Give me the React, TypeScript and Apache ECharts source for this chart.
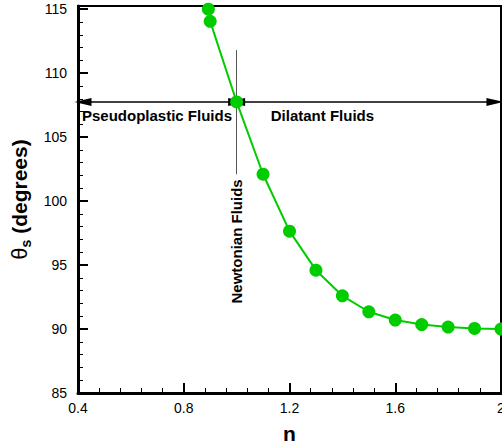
import React, { useEffect, useRef } from "react";
import * as echarts from "echarts";

const nValues = [0.893, 0.9, 1.0, 1.1, 1.2, 1.3, 1.4, 1.5, 1.6, 1.7, 1.8, 1.9, 2.0];
const thetaValues = [115.0, 114.05, 107.75, 102.1, 97.65, 94.6, 92.6, 91.35, 90.7, 90.35, 90.15, 90.05, 90.0];

const xTickLabels = ["0.4", "0.8", "1.2", "1.6", "2"];
const yRange = [85, 115.25];
const xRange = [0.4, 2.0];

const arrowY = 107.75;
const pseudoArrow = [0.419, 1.0];
const dilatantArrow = [1.0, 1.977];
const newtonianLine = [111.8, 102.1];
const annotations = [
  { name: "Pseudoplastic Fluids", n: 0.415, theta: 106.7, rotate: 0 },
  { name: "Dilatant Fluids", n: 1.129, theta: 106.7, rotate: 0 },
  { name: "Newtonian Fluids", n: 1.0, theta: 96.85, rotate: 90 },
];

const FONT = "'Liberation Sans', Arial, Helvetica, sans-serif";

export default function App() {
  const ref = useRef<HTMLDivElement>(null);
  useEffect(() => {
    if (!ref.current) return;
    const chart = echarts.init(ref.current, undefined, { renderer: "svg" });
    const greens = "#00CC00";
    const option: any = {
      animation: false,
      backgroundColor: "#fff",
      grid: {
        left: 78,
        right: 1,
        top: 6,
        bottom: 52,
        containLabel: false,
        outerBoundsMode: "none",
        show: true,
        borderColor: "#000",
        borderWidth: 2,
        backgroundColor: "transparent",
      },
      xAxis: {
        type: "value",
        min: xRange[0],
        max: xRange[1],
        interval: 0.4,
        name: "n",
        nameLocation: "middle",
        nameGap: 30,
        nameTextStyle: { fontFamily: FONT, fontSize: 21, fontWeight: "bold", color: "#000" },
        axisLine: { show: true, lineStyle: { color: "#000", width: 3 } },
        axisTick: { show: true, inside: true, length: 10, lineStyle: { color: "#000", width: 2 } },
        minorTick: { show: true, splitNumber: 5, length: 5, lineStyle: { color: "#000", width: 1 } },
        splitLine: { show: false },
        axisLabel: {
          fontFamily: FONT,
          fontSize: 14,
          color: "#000",
          margin: 8,
          formatter: (v: number) => {
            const i = Math.round((v - xRange[0]) / 0.4);
            return xTickLabels[i] ?? "";
          },
        },
      },
      yAxis: {
        type: "value",
        min: yRange[0],
        max: yRange[1],
        interval: 5,
        name: "{t|θ}{s|s}{d| (degrees)}",
        nameLocation: "middle",
        nameRotate: 90,
        nameGap: 42,
        nameTextStyle: {
          fontFamily: FONT,
          color: "#000",
          rich: {
            t: { fontFamily: FONT, fontSize: 22, color: "#000" },
            s: { fontFamily: FONT, fontSize: 14, fontWeight: "bold", color: "#000", padding: [12, 0, 0, 0] },
            d: { fontFamily: FONT, fontSize: 21, fontWeight: "bold", color: "#000" },
          },
        },
        axisLine: { show: true, lineStyle: { color: "#000", width: 3 } },
        axisTick: { show: true, inside: true, length: 10, lineStyle: { color: "#000", width: 2 } },
        minorTick: { show: true, splitNumber: 5, length: 5, lineStyle: { color: "#000", width: 1 } },
        splitLine: { show: false },
        axisLabel: { fontFamily: FONT, fontSize: 14, color: "#000", margin: 11 },
      },
      series: [
        {
          type: "line",
          data: nValues.map((n, i) => [n, thetaValues[i]]),
          clip: false,
          z: 5,
          symbol: "circle",
          symbolSize: 13,
          itemStyle: { color: greens },
          lineStyle: { color: greens, width: 2 },
          markLine: {
            silent: true,
            animation: false,
            label: { show: false },
            z: 4,
            data: [
              [
                { coord: [pseudoArrow[0], arrowY], symbol: "triangle", symbolSize: [8, 17] },
                { coord: [pseudoArrow[1], arrowY], symbol: "triangle", symbolSize: [8, 17] },
              ],
              [
                { coord: [dilatantArrow[0], arrowY], symbol: "triangle", symbolSize: [8, 17] },
                { coord: [dilatantArrow[1], arrowY], symbol: "triangle", symbolSize: [8, 17] },
              ],
              [
                { coord: [1.0, newtonianLine[0]], symbol: "none", lineStyle: { color: "#555", width: 1, type: "solid" } },
                { coord: [1.0, newtonianLine[1]], symbol: "none" },
              ],
            ],
            lineStyle: { color: "#000", width: 1.5, type: "solid" },
            itemStyle: { color: "#000" },
          },
          markPoint: {
            silent: true,
            symbol: "circle",
            symbolSize: 0,
            data: annotations.map((a) => ({
              name: a.name,
              coord: [a.n, a.theta],
              label: {
                show: true,
                formatter: "{b}",
                position: a.rotate ? "inside" : "right",
                distance: 0,
                rotate: a.rotate,
                align: a.rotate ? "center" : "left",
                verticalAlign: "middle",
                fontFamily: FONT,
                fontSize: 15,
                fontWeight: "bold",
                color: "#000",
              },
            })),
          },
        },
      ],
    };
    chart.setOption(option);
    return () => chart.dispose();
  }, []);
  return (
    <div
      ref={ref}
      style={{ position: "fixed", left: 0, top: 0, width: 502, height: 445, background: "#fff" }}
    />
  );
}
